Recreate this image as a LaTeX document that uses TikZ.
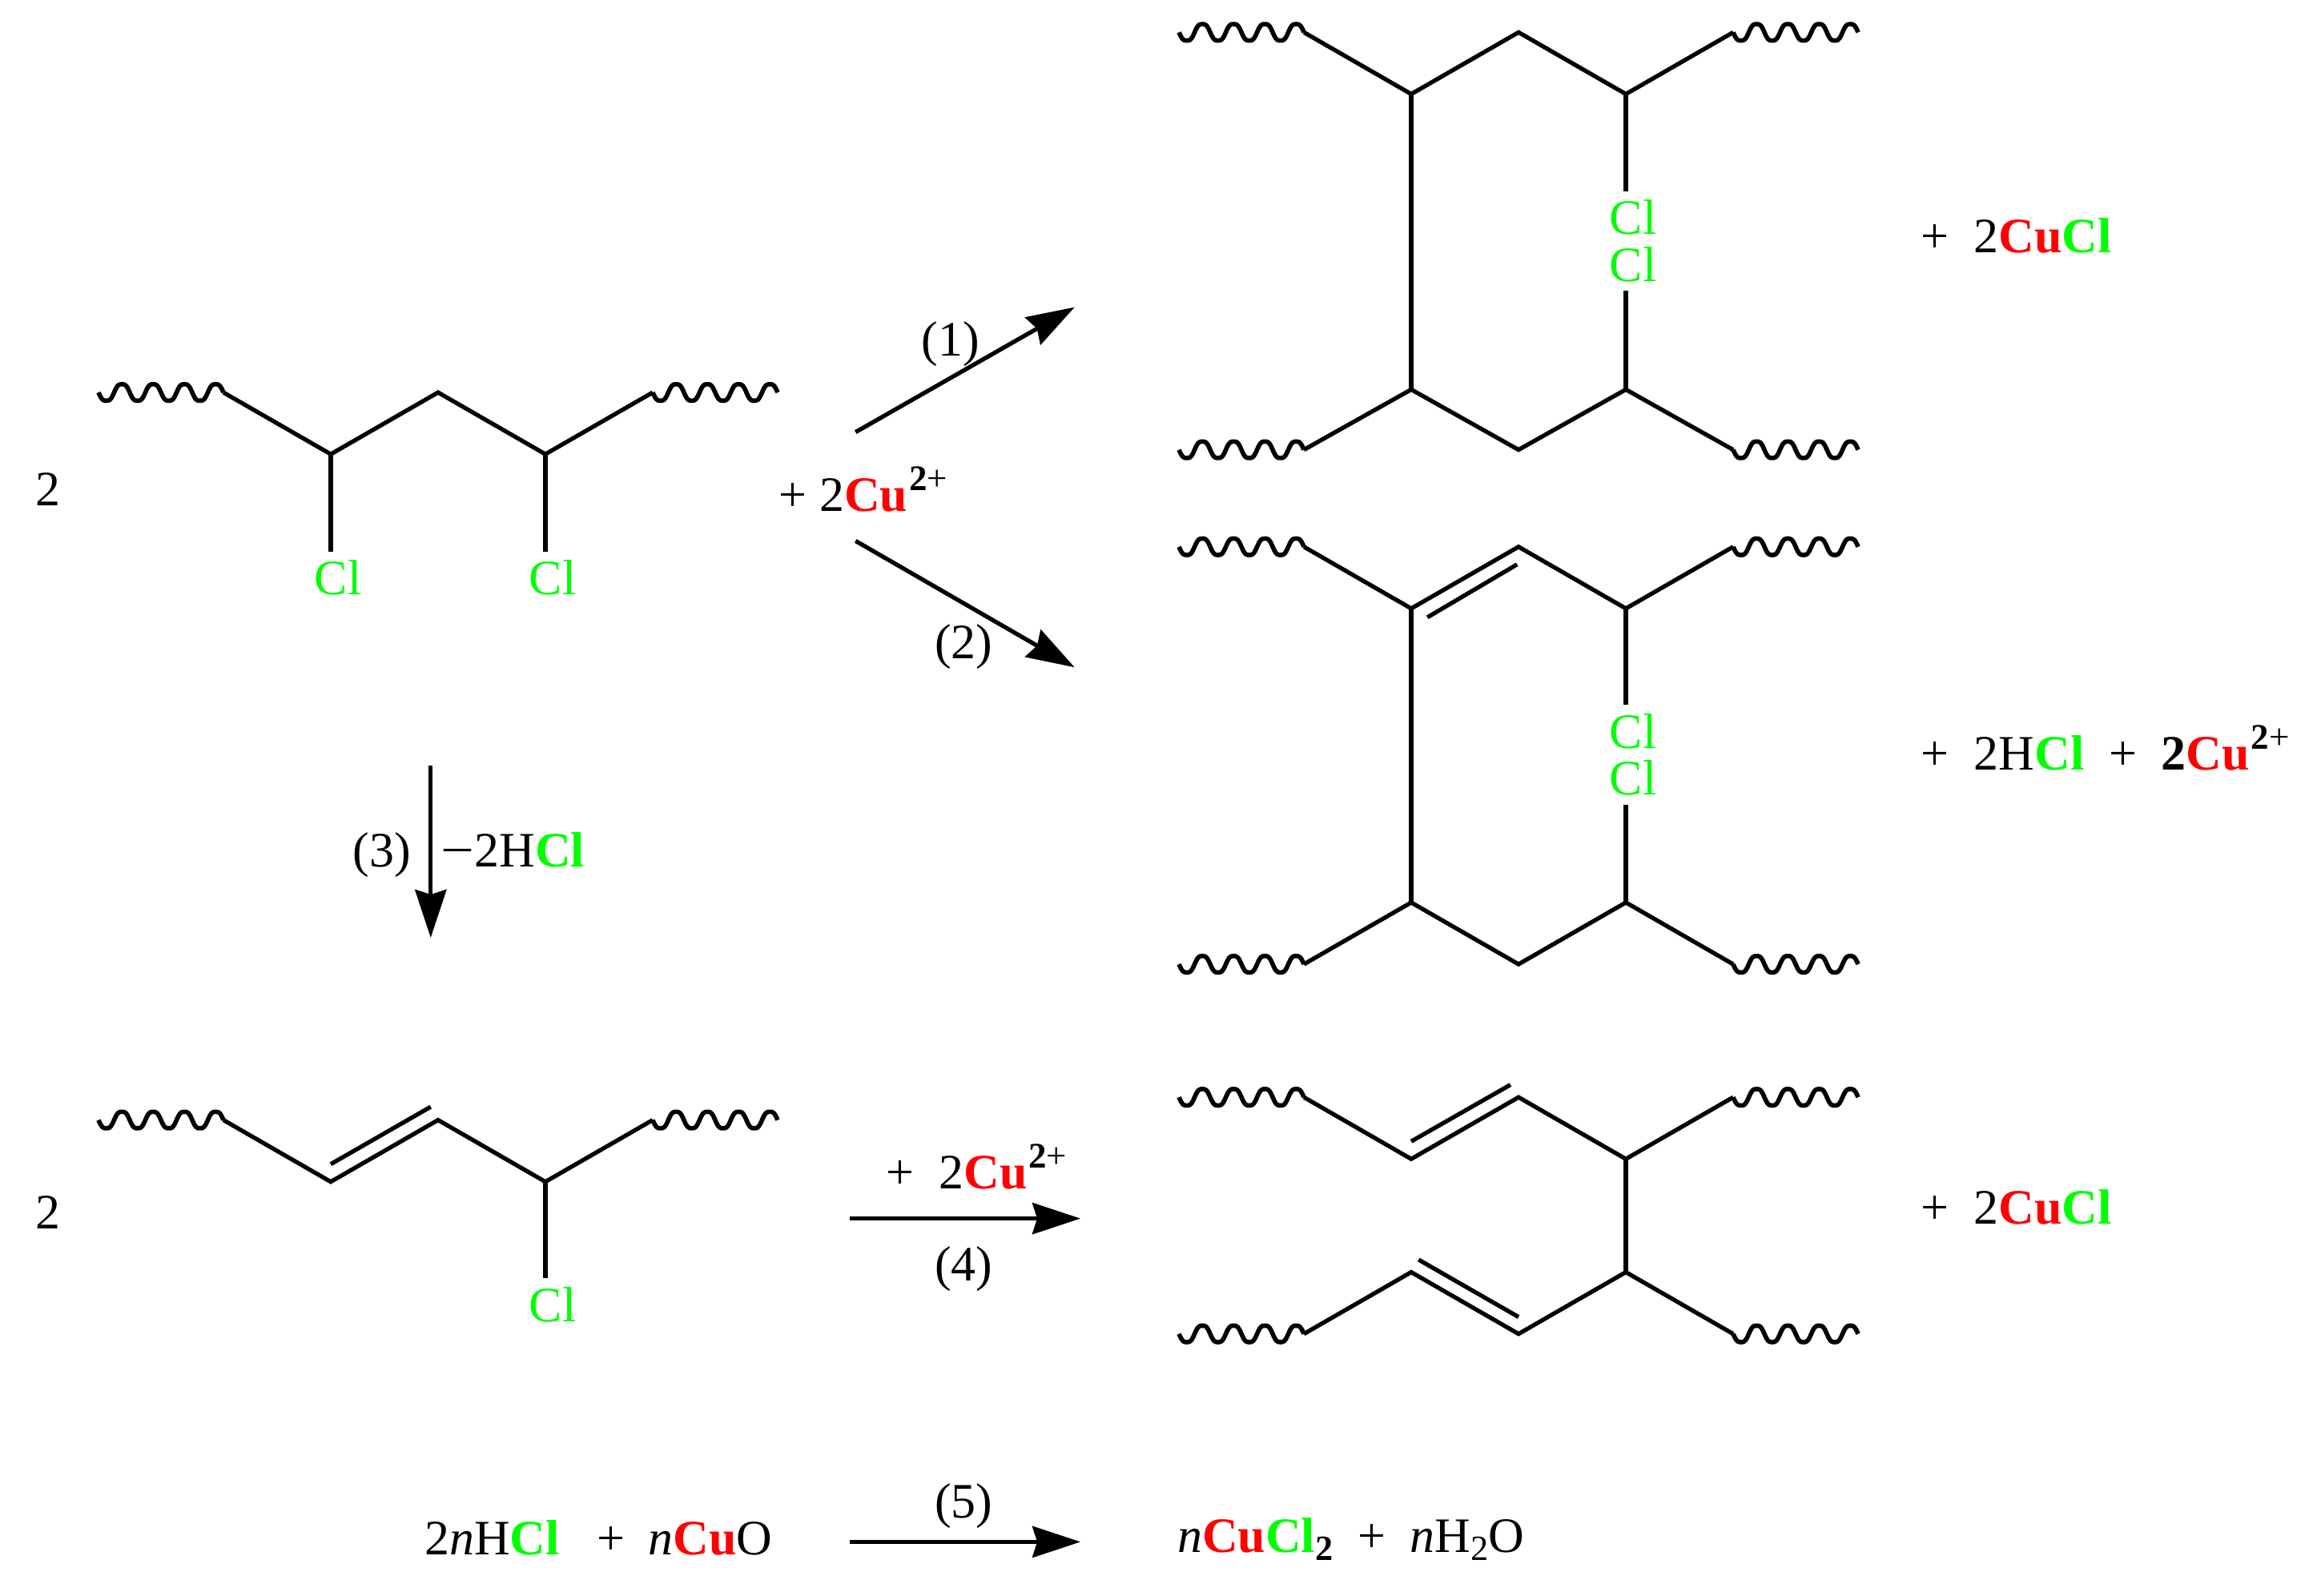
\documentclass[tikz,border=0pt]{standalone}
\usepackage{fontspec}
\setmainfont{Liberation Serif}
\usetikzlibrary{arrows.meta}
\definecolor{clgreen}{RGB}{0,255,0}
\definecolor{cured}{RGB}{255,0,0}
\newcommand{\gcl}{\textcolor{clgreen}{\textbf{Cl}}}
\newcommand{\rcu}{\textcolor{cured}{\textbf{Cu}}}
\newcommand{\charge}{\kern0.03em\raisebox{0.42em}{\fontsize{12.8pt}{12.8pt}\selectfont\textbf{2}+}}
\newcommand{\lowtwo}[1]{\raisebox{-0.17em}{\fontsize{12.6pt}{12.6pt}\selectfont #1}}
\tikzset{
  bond/.style={line width=1.5pt},
  wiggle/.style={line width=1.6pt,line join=round},
  arrowline/.style={line width=1.5pt,-{Stealth[length=6mm,width=3.9mm,inset=0.6mm]}},
  chem/.style={inner sep=0pt,outer sep=0pt,anchor=base west,font=\fontsize{17.6pt}{20pt}\selectfont},
  atomcl/.style={chem,text=clgreen},
  wavy/.pic={\draw[wiggle] plot[smooth,domain=0:85,samples=103] (\x,{6.15*(sin(16.941*\x)+0.09*sin(50.823*\x))});}
}
\begin{document}
\begin{tikzpicture}[x=0.018355cm,y=-0.018355cm]
\useasboundingbox (0,0) rectangle (1568,1085.8);

% --- Top left: dichloro chain
\coordinate (a1) at (152,267); \coordinate (a2) at (225,309); \coordinate (a3) at (298,267);
\coordinate (a4) at (371,309); \coordinate (a5) at (444,267); \coordinate (a0) at (67,267);
\pic at (a0) {wavy}; \pic at (a5) {wavy};
\draw[bond] (a1)--(a2)--(a3)--(a4)--(a5);
\node[atomcl] (acl1) at (214,404.5) {Cl};
\node[atomcl] (acl2) at (360,404.5) {Cl};
\draw[bond,shorten >=0.11cm] (a2)--(a2 |- acl1.north);
\draw[bond,shorten >=0.11cm] (a4)--(a4 |- acl2.north);
\node[chem] (n2a) at (24,344) {2};

% --- Lower left: chloro-ene chain
\coordinate (b1) at (152,762); \coordinate (b2) at (225,804); \coordinate (b3) at (298,762);
\coordinate (b4) at (371,804); \coordinate (b5) at (444,762); \coordinate (b0) at (67,762);
\coordinate (bi1) at (225,792); \coordinate (bi2) at (293,753);
\pic at (b0) {wavy}; \pic at (b5) {wavy};
\draw[bond] (b1)--(b2)--(b3)--(b4)--(b5);
\draw[bond] (bi1)--(bi2);
\node[atomcl] (bcl) at (360,899) {Cl};
\draw[bond,shorten >=0.11cm] (b4)--(b4 |- bcl.north);
\node[chem] (n2b) at (24,836) {2};

% --- Top right: product 1
\coordinate (c0) at (802,22); \coordinate (c1) at (887,22); \coordinate (c2) at (960,64);
\coordinate (c3) at (1033,22); \coordinate (c4) at (1106,64); \coordinate (c5) at (1179,22);
\coordinate (d0) at (802,306); \coordinate (d1) at (887,306); \coordinate (d2) at (960,265);
\coordinate (d3) at (1033,306); \coordinate (d4) at (1106,265); \coordinate (d5) at (1179,306);
\pic at (c0) {wavy}; \pic at (c5) {wavy}; \pic at (d0) {wavy}; \pic at (d5) {wavy};
\draw[bond] (c1)--(c2)--(c3)--(c4)--(c5);
\draw[bond] (d1)--(d2)--(d3)--(d4)--(d5);
\draw[bond] (c2)--(d2);
\node[atomcl] (ccl) at (1095,159.5) {Cl};
\node[atomcl] (dcl) at (1095,191.5) {Cl};
\draw[bond,shorten >=0.11cm] (c4)--(c4 |- ccl.north);
\draw[bond,shorten >=0.11cm] (d4)--(d4 |- dcl.south);

% --- Middle right: product 2
\coordinate (e0) at (802,372); \coordinate (e1) at (887,372); \coordinate (e2) at (960,414);
\coordinate (e3) at (1033,372); \coordinate (e4) at (1106,414); \coordinate (e5) at (1179,372);
\coordinate (f0) at (802,656); \coordinate (f1) at (887,656); \coordinate (f2) at (960,614);
\coordinate (f3) at (1033,656); \coordinate (f4) at (1106,614); \coordinate (f5) at (1179,656);
\coordinate (ei1) at (971,420); \coordinate (ei2) at (1032,384);
\pic at (e0) {wavy}; \pic at (e5) {wavy}; \pic at (f0) {wavy}; \pic at (f5) {wavy};
\draw[bond] (e1)--(e2)--(e3)--(e4)--(e5);
\draw[bond] (f1)--(f2)--(f3)--(f4)--(f5);
\draw[bond] (e2)--(f2);
\draw[bond] (ei1)--(ei2);
\node[atomcl] (ecl) at (1095,509) {Cl};
\node[atomcl] (fcl) at (1095,541) {Cl};
\draw[bond,shorten >=0.11cm] (e4)--(e4 |- ecl.north);
\draw[bond,shorten >=0.11cm] (f4)--(f4 |- fcl.south);

% --- Bottom right: product 4
\coordinate (g0) at (802,746.5); \coordinate (g1) at (887,746.5); \coordinate (g2) at (960,788.5);
\coordinate (g3) at (1033,746.5); \coordinate (g4) at (1106,788.5); \coordinate (g5) at (1179,746.5);
\coordinate (h0) at (802,907.5); \coordinate (h1) at (887,907.5); \coordinate (h2) at (960,865.5);
\coordinate (h3) at (1033,907.5); \coordinate (h4) at (1106,865.5); \coordinate (h5) at (1179,907.5);
\coordinate (gi1) at (960,776.5); \coordinate (gi2) at (1027.5,738);
\coordinate (hi1) at (965,857); \coordinate (hi2) at (1033,896);
\pic at (g0) {wavy}; \pic at (g5) {wavy}; \pic at (h0) {wavy}; \pic at (h5) {wavy};
\draw[bond] (g1)--(g2)--(g3)--(g4)--(g5);
\draw[bond] (h1)--(h2)--(h3)--(h4)--(h5);
\draw[bond] (g4)--(h4);
\draw[bond] (gi1)--(gi2);
\draw[bond] (hi1)--(hi2);

% --- Arrows
\coordinate (r1s) at (582,294); \coordinate (r1e) at (731,209);
\coordinate (r2s) at (582,368); \coordinate (r2e) at (731,454);
\coordinate (r3s) at (293,521); \coordinate (r3e) at (293,638);
\coordinate (r4s) at (578,829); \coordinate (r4e) at (735,829);
\coordinate (r5s) at (578,1049); \coordinate (r5e) at (735,1049);
\draw[arrowline] (r1s)--(r1e);
\draw[arrowline] (r2s)--(r2e);
\draw[arrowline] (r3s)--(r3e);
\draw[arrowline] (r4s)--(r4e);
\draw[arrowline] (r5s)--(r5e);

% --- Labels
\node[chem] (t1) at (627,242) {(1)};
\node[chem] (t2) at (636,448) {(2)};
\node[chem] (t3) at (240,590) {(3)};
\node[chem] (t3b) at (300,590) {\scalebox{1.2}[1]{−}2H\gcl};
\node[chem] (t4) at (636,871.5) {(4)};
\node[chem] (t5) at (636,1032.5) {(5)};
\node[chem] (cu1) at (530,348) {+ 2\rcu\charge};
\node[chem] (cu2) at (603,809) {+\ \ 2\rcu\charge};
\node[chem] (p1) at (1307,172) {+\ \ 2\rcu\gcl};
\node[chem] (p2) at (1307,524) {+\ \ 2H\gcl\ \ +\ \ \textbf{2}\rcu\charge};
\node[chem] (p4) at (1307,833) {+\ \ 2\rcu\gcl};
\node[chem] (q1) at (289,1058) {2\textit{n}H\gcl\hspace{0.75em}+\hspace{0.48em}\textit{n}\rcu O};
\node[chem] (q2) at (801,1056) {\textit{n}\rcu\gcl\lowtwo{\textbf{2}}\ \ +\ \ \textit{n}H\lowtwo{2}O};
\end{tikzpicture}
\end{document}
